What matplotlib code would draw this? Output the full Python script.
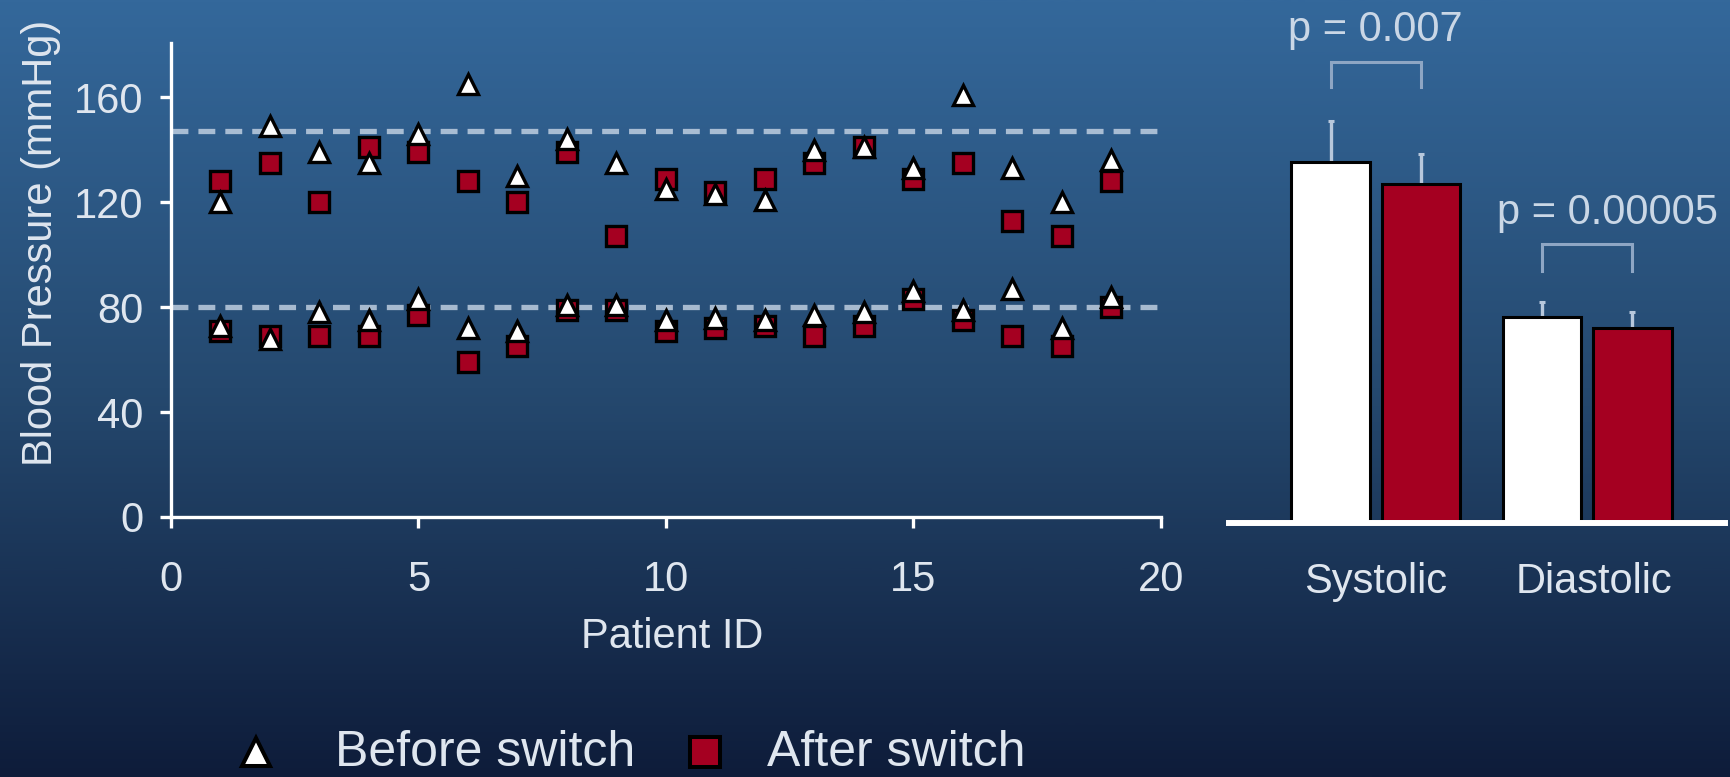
import numpy as np
import matplotlib
matplotlib.use("Agg")
import matplotlib.pyplot as plt
from matplotlib.lines import Line2D
from matplotlib.colors import LinearSegmentedColormap

# ---- data -------------------------------------------------------------
patient_id = list(range(1, 20))
systolic_before = [120, 149, 139, 135, 146, 165, 130, 144, 135, 125,
                   123, 121, 140, 141, 133, 161, 133, 120, 136]
systolic_after = [128, 135, 120, 141, 139, 128, 120, 139, 107, 129,
                  124, 129, 135, 141, 129, 135, 113, 107, 128]
diastolic_before = [73, 68, 78, 75, 83, 72, 71, 81, 81, 75,
                    76, 75, 77, 78, 86, 79, 87, 72, 84]
diastolic_after = [71, 69, 69, 69, 77, 59, 65, 79, 79, 71,
                   72, 73, 69, 73, 83, 75, 69, 65, 80]
reference_lines = [147, 80]

bar_categories = ["Systolic", "Diastolic"]
bar_before = [137.4, 78.6]
bar_after = [129.3, 74.4]
err_before = [15.7, 5.7]
err_after = [11.3, 5.9]
p_labels = ["p = 0.007", "p = 0.00005"]

x_ticks = [0, 5, 10, 15, 20]
y_ticks = [0, 40, 80, 120, 160]
legend_labels = ["Before switch", "After switch"]

# ---- style ------------------------------------------------------------
RED = "#a50021"
TEXT = "#dfe6ef"
W, H = 1731, 777

plt.rcParams["font.family"] = ["Liberation Sans", "DejaVu Sans"]
fig = plt.figure(figsize=(W / 100, H / 100), dpi=100)

# vertical blue gradient behind everything
bg = fig.add_axes([0, 0, 1, 1], zorder=-10)
cmap = LinearSegmentedColormap.from_list(
    "bg", [(0.0, "#34689b"), (0.5, "#25496f"), (1.0, "#0e1c3a")])
bg.imshow(np.linspace(0, 1, 512).reshape(-1, 1), aspect="auto", cmap=cmap,
          extent=[0, 1, 0, 1], origin="upper")
bg.axis("off")

# ---- scatter panel ------------------------------------------------------
ax = fig.add_axes([171 / W, 260 / H, 990 / W, 474 / H])
ax.patch.set_alpha(0)
ax.set_xlim(0, 20)
ax.set_ylim(0, 180.7)

for yref in reference_lines:
    ax.axhline(yref, color="#c8d6e6", lw=3.8, alpha=0.8, dashes=(3.2, 1.9),
               zorder=1)

ax.plot(patient_id, systolic_after, ls="none", marker="s", ms=15,
        mfc=RED, mec="black", mew=2.4, zorder=3)
ax.plot(patient_id, diastolic_after, ls="none", marker="s", ms=15,
        mfc=RED, mec="black", mew=2.4, zorder=3)
ax.plot(patient_id, systolic_before, ls="none", marker="^", ms=14,
        mfc="white", mec="black", mew=2.4, zorder=4)
ax.plot(patient_id, diastolic_before, ls="none", marker="^", ms=14,
        mfc="white", mec="black", mew=2.4, zorder=4)

for side in ("top", "right"):
    ax.spines[side].set_visible(False)
for side in ("left", "bottom"):
    ax.spines[side].set_color("white")
    ax.spines[side].set_linewidth(2.4)

ax.set_xticks(x_ticks)
ax.set_yticks(y_ticks)
ax.tick_params(colors="white", labelcolor=TEXT, labelsize=30,
               length=8, width=2.4, direction="out")
ax.tick_params(axis="x", pad=23)
ax.tick_params(axis="y", pad=12)

ax.set_xlabel("Patient ID", fontsize=30, color=TEXT)
ax.xaxis.set_label_coords(0.506, -0.211)
ax.set_ylabel("Blood Pressure (mmHg)", fontsize=30, color=TEXT)
ax.yaxis.set_label_coords(-0.1116, 0.578)

# ---- bar panel ------------------------------------------------------------
ax2 = fig.add_axes([1229 / W, 254 / H, 496 / W, 523 / H])
ax2.patch.set_alpha(0)
ax2.set_xlim(-0.694, 1.652)
ax2.set_ylim(0, 199.2)

xpos = np.arange(len(bar_categories))
off, width = 0.2137, 0.372
ax2.bar(xpos - off, bar_before, width, color="white", edgecolor="black",
        lw=2.2, zorder=2)
ax2.bar(xpos + off, bar_after, width, color=RED, edgecolor="black",
        lw=2.2, zorder=2)
zeros = np.zeros(len(xpos))
ax2.errorbar(xpos - off, bar_before, yerr=[zeros, err_before], fmt="none",
             ecolor="#b8c8dc", elinewidth=2.4, capsize=2, capthick=2.2,
             zorder=1)
ax2.errorbar(xpos + off, bar_after, yerr=[zeros, err_after], fmt="none",
             ecolor="#b8c8dc", elinewidth=2.4, capsize=2, capthick=2.2,
             zorder=1)

# significance brackets
brackets = [(165.9, 175.7), (95.8, 106.1)]
text_pos = [(0.0, 183.6), (1.098, 113.8)]
for i, ((yb, yt), (tx, ty), lab) in enumerate(zip(brackets, text_pos, p_labels)):
    x0, x1 = xpos[i] - off, xpos[i] + off
    ax2.plot([x0, x0, x1, x1], [yb, yt, yt, yb], color="#8ea6c4", lw=2.2,
             solid_joinstyle="miter")
    ax2.text(tx, ty, lab, ha="center", va="baseline", fontsize=30,
             color="#cad7e6")

for side in ("top", "right", "left"):
    ax2.spines[side].set_visible(False)
ax2.spines["bottom"].set_color("white")
ax2.spines["bottom"].set_linewidth(4.3)
ax2.set_yticks([])
ax2.set_xticks([0, 1.032])
ax2.set_xticklabels(bar_categories)
ax2.tick_params(axis="x", length=0, pad=28, labelsize=30, labelcolor=TEXT)

# ---- legend (drawn in figure pixel positions) ----------------------------
legend_markers = [
    dict(marker="^", ms=20, mfc="white", mec="black", mew=2.9),
    dict(marker="s", ms=21.5, mfc=RED, mec="black", mew=2.9),
]
marker_x = [256, 705]
text_x = [335, 767]
for style, mx, tx, lab in zip(legend_markers, marker_x, text_x, legend_labels):
    fig.add_artist(Line2D([mx / W], [1 - 752 / H], transform=fig.transFigure,
                          ls="none", **style))
    fig.text(tx / W, 1 - 766 / H, lab, fontsize=36, color=TEXT,
             ha="left", va="baseline")

fig.savefig("out.png", dpi=100)
